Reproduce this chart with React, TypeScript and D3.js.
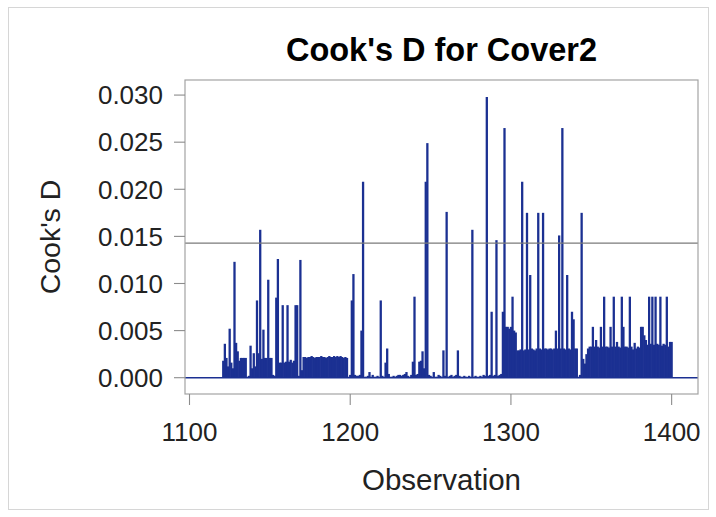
import React from "react";
import * as d3 from "d3";

// Cook's D influence statistic, observations 1121–1400
const firstObservation = 1121;

const cookD1121to1170 = [
  0.0018, 0.0036, 0.0021, 0.0012, 0.0052, 0.0016, 0.0010, 0.0123, 0.0037, 0.0028,
  0.0018, 0.0021, 0.0021, 0.0021, 0.0021, 0.0001, 0.0002, 0.0034, 0.0010, 0.0026,
  0.0012, 0.0082, 0.0026, 0.0157, 0.0020, 0.0051, 0.0021, 0.0021, 0.0104, 0.0021,
  0.0021, 0.0003, 0.0002, 0.0085, 0.0126, 0.0016, 0.0016, 0.0077, 0.0016, 0.0017,
  0.0077, 0.0017, 0.0019, 0.0016, 0.0018, 0.0077, 0.0077, 0.0002, 0.0125, 0.0008,
];

const cookD1171to1220 = [
  0.0022, 0.0022, 0.0021, 0.0022, 0.0022, 0.0023, 0.0022, 0.0021, 0.0022, 0.0022,
  0.0022, 0.0023, 0.0022, 0.0022, 0.0021, 0.0022, 0.0023, 0.0022, 0.0022, 0.0023,
  0.0022, 0.0023, 0.0022, 0.0023, 0.0022, 0.0021, 0.0022, 0.0021, 0.0001, 0.0003,
  0.0082, 0.0110, 0.0003, 0.0002, 0.0002, 0.0003, 0.0050, 0.0208, 0.0001, 0.0001,
  0.0002, 0.0006, 0.0001, 0.0003, 0.0001, 0.0001, 0.0002, 0.0001, 0.0082, 0.0002,
];

const cookD1221to1270 = [
  0.0001, 0.0016, 0.0031, 0.0004, 0.0001, 0.0001, 0.0002, 0.0001, 0.0002, 0.0003,
  0.0003, 0.0002, 0.0003, 0.0004, 0.0006, 0.0002, 0.0001, 0.0003, 0.0017, 0.0086,
  0.0003, 0.0004, 0.0017, 0.0018, 0.0028, 0.0010, 0.0208, 0.0249, 0.0003, 0.0002,
  0.0001, 0.0006, 0.0001, 0.0001, 0.0003, 0.0002, 0.0001, 0.0029, 0.0002, 0.0176,
  0.0001, 0.0002, 0.0003, 0.0001, 0.0002, 0.0003, 0.0029, 0.0002, 0.0001, 0.0001,
];

const cookD1271to1320 = [
  0.0002, 0.0001, 0.0001, 0.0002, 0.0001, 0.0157, 0.0001, 0.0002, 0.0001, 0.0001,
  0.0002, 0.0001, 0.0003, 0.0002, 0.0298, 0.0002, 0.0003, 0.0070, 0.0002, 0.0003,
  0.0146, 0.0002, 0.0003, 0.0004, 0.0070, 0.0265, 0.0054, 0.0054, 0.0052, 0.0054,
  0.0086, 0.0050, 0.0048, 0.0029, 0.0029, 0.0030, 0.0208, 0.0029, 0.0030, 0.0175,
  0.0030, 0.0109, 0.0031, 0.0030, 0.0029, 0.0031, 0.0175, 0.0031, 0.0030, 0.0175,
];

const cookD1321to1360 = [
  0.0031, 0.0031, 0.0030, 0.0031, 0.0031, 0.0030, 0.0031, 0.0050, 0.0031, 0.0151,
  0.0031, 0.0265, 0.0031, 0.0030, 0.0109, 0.0031, 0.0030, 0.0070, 0.0062, 0.0031,
  0.0031, 0.0001, 0.0003, 0.0175, 0.0020, 0.0015, 0.0025, 0.0031, 0.0033, 0.0033,
  0.0054, 0.0033, 0.0040, 0.0033, 0.0032, 0.0054, 0.0033, 0.0086, 0.0033, 0.0033,
];

const cookD1361to1400 = [
  0.0032, 0.0054, 0.0033, 0.0086, 0.0033, 0.0038, 0.0033, 0.0032, 0.0086, 0.0054,
  0.0033, 0.0033, 0.0032, 0.0086, 0.0033, 0.0030, 0.0037, 0.0031, 0.0033, 0.0032,
  0.0054, 0.0054, 0.0045, 0.0040, 0.0035, 0.0086, 0.0036, 0.0086, 0.0035, 0.0086,
  0.0036, 0.0035, 0.0086, 0.0034, 0.0036, 0.0035, 0.0086, 0.0033, 0.0038, 0.0038,
];

const xTicks = [1100, 1200, 1300, 1400];
const yTicks = [0, 0.005, 0.01, 0.015, 0.02, 0.025, 0.03];

const titleText = "Cook's D for Cover2";
const xLabel = "Observation";
const yLabel = "Cook's D";

const cookD = [
  ...cookD1121to1170,
  ...cookD1171to1220,
  ...cookD1221to1270,
  ...cookD1271to1320,
  ...cookD1321to1360,
  ...cookD1361to1400,
];

const points = cookD.map((d, i) => ({ obs: firstObservation + i, d }));
// conventional cutoff 4/n
const cutoff = 4 / cookD.length;

const W = 716;
const H = 517;
const plot = { left: 185, right: 698, top: 80, bottom: 394 };

const font = "'Liberation Sans', Arial, Helvetica, sans-serif";
const needleColor = "#1b3092";

export default function App() {
  const x = d3.scaleLinear().domain([1097.2, 1416.4]).range([plot.left, plot.right]);
  const y = d3.scaleLinear().domain([-0.00173, 0.0316]).range([plot.bottom, plot.top]);
  const fmt = d3.format(".3f");
  const cx = (plot.left + plot.right) / 2;
  const cy = (plot.top + plot.bottom) / 2;

  return (
    <svg
      width={W}
      height={H}
      viewBox={`0 0 ${W} ${H}`}
      style={{ position: "absolute", left: 0, top: 0, background: "#fff" }}
      fontFamily={font}
    >
      <rect x={0} y={0} width={W} height={H} fill="#fff" />
      <rect x={8.5} y={7.5} width={700} height={502} fill="none" stroke="#d6d6d6" />

      <text x={441.5} y={61} textAnchor="middle" fontSize={32.5} fontWeight="bold" fill="#000">
        {titleText}
      </text>

      {/* needles */}
      <g stroke={needleColor} strokeWidth={2.3}>
        {points.map((p) => (
          <line key={p.obs} x1={x(p.obs)} x2={x(p.obs)} y1={y(0)} y2={y(p.d)} />
        ))}
      </g>

      {/* baseline at zero */}
      <line x1={plot.left} x2={plot.right} y1={y(0)} y2={y(0)} stroke={needleColor} strokeWidth={1.6} />

      {/* cutoff reference line */}
      <line
        x1={plot.left}
        x2={plot.right}
        y1={y(cutoff)}
        y2={y(cutoff)}
        stroke="#7a7a7a"
        strokeWidth={1.1}
      />

      {/* frame */}
      <rect
        x={plot.left}
        y={plot.top}
        width={plot.right - plot.left}
        height={plot.bottom - plot.top}
        fill="none"
        stroke="#a3a3a3"
        strokeWidth={1.2}
      />

      {/* y axis */}
      <g>
        {yTicks.map((t) => (
          <g key={t}>
            <line x1={plot.left - 11} x2={plot.left} y1={y(t)} y2={y(t)} stroke="#8c8c8c" strokeWidth={1.1} />
            <text x={163} y={y(t) + 9.3} textAnchor="end" fontSize={26} fill="#222">
              {fmt(t)}
            </text>
          </g>
        ))}
      </g>

      {/* x axis */}
      <g>
        {xTicks.map((t) => (
          <g key={t}>
            <line x1={x(t)} x2={x(t)} y1={plot.bottom} y2={plot.bottom + 11} stroke="#8c8c8c" strokeWidth={1.1} />
            <text x={x(t)} y={441} textAnchor="middle" fontSize={26} fill="#222">
              {t}
            </text>
          </g>
        ))}
      </g>

      <text x={cx} y={490} textAnchor="middle" fontSize={29.5} fill="#222">
        {xLabel}
      </text>
      <text
        transform={`translate(60, ${cy}) rotate(-90)`}
        textAnchor="middle"
        fontSize={28.5}
        fill="#222"
      >
        {yLabel}
      </text>
    </svg>
  );
}
